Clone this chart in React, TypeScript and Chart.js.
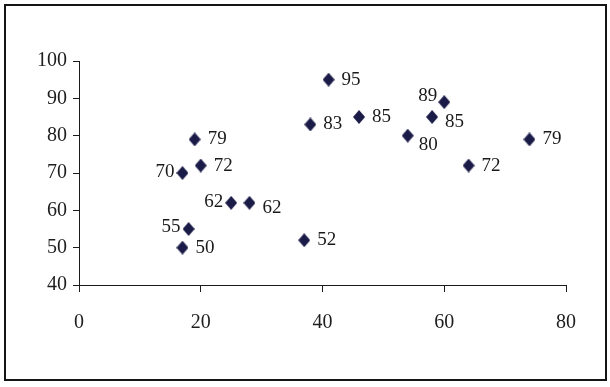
import React, { useEffect, useRef } from "react";
import { Chart, registerables } from "chart.js";

Chart.register(...registerables);

// Data
const xValues = [17, 19, 20, 25, 28, 18, 17, 37, 38, 41, 46, 54, 58, 60, 64, 74];
const yValues = [70, 79, 72, 62, 62, 55, 50, 52, 83, 95, 85, 80, 85, 89, 72, 79];
const pointLabels = ["70", "79", "72", "62", "62", "55", "50", "52", "83", "95", "85", "80", "85", "89", "72", "79"];
// where each value label sits relative to its marker
const labelPlacement = [
  "left", "right", "right", "left", "rightLow", "leftHigh", "right", "right",
  "right", "right", "right", "belowRight", "rightLow", "aboveLeft", "right", "right",
];
const xTicks = [0, 20, 40, 60, 80];
const yTicks = [40, 50, 60, 70, 80, 90, 100];

const MARK = "#1b1b48";
const FONT = "'Liberation Serif', 'Times New Roman', serif";

function makeDiamond(): HTMLCanvasElement {
  const c = document.createElement("canvas");
  const w = 12;
  const h = 14;
  c.width = w;
  c.height = h;
  const g = c.getContext("2d")!;
  g.fillStyle = MARK;
  g.beginPath();
  g.moveTo(w / 2, 0);
  g.lineTo(w, h / 2);
  g.lineTo(w / 2, h);
  g.lineTo(0, h / 2);
  g.closePath();
  g.fill();
  return c;
}

const placementOffsets: Record<string, { dx: number; dy: number; align: CanvasTextAlign }> = {
  right: { dx: 13, dy: 0, align: "left" },
  rightLow: { dx: 13, dy: 5, align: "left" },
  belowRight: { dx: 11, dy: 9, align: "left" },
  left: { dx: -8, dy: -1, align: "right" },
  leftHigh: { dx: -8, dy: -2, align: "right" },
  aboveLeft: { dx: -7, dy: -6, align: "right" },
};

const labelPlugin = {
  id: "valueLabels",
  afterDatasetsDraw(chart: any) {
    const meta = chart.getDatasetMeta(0);
    const ctx = chart.ctx;
    ctx.save();
    ctx.font = `19px ${FONT}`;
    ctx.fillStyle = "#1a1a1a";
    ctx.textBaseline = "middle";
    meta.data.forEach((el: any, i: number) => {
      const o = placementOffsets[labelPlacement[i]] || placementOffsets.right;
      ctx.textAlign = o.align;
      ctx.fillText(pointLabels[i], el.x + o.dx, el.y + o.dy);
    });
    ctx.restore();
  },
};

export default function App() {
  const ref = useRef<HTMLCanvasElement | null>(null);

  useEffect(() => {
    if (!ref.current) return;
    const diamond = makeDiamond();
    const chart = new Chart(ref.current, {
      type: "scatter",
      data: {
        datasets: [
          {
            data: xValues.map((x, i) => ({ x, y: yValues[i] })),
            pointStyle: diamond as any,
            pointRadius: 6,
            backgroundColor: MARK,
            borderColor: MARK,
          },
        ],
      },
      options: {
        animation: false,
        responsive: false,
        maintainAspectRatio: false,
        layout: { padding: { top: 61, right: 44, left: 0, bottom: 0 } },
        plugins: {
          legend: { display: false },
          tooltip: { enabled: false },
        },
        scales: {
          x: {
            type: "linear",
            min: 0,
            max: 80,
            afterFit: (s: any) => {
              s.height = 102;
            },
            afterBuildTicks: (s: any) => {
              s.ticks = xTicks.map((v) => ({ value: v }));
            },
            grid: {
              display: true,
              drawOnChartArea: false,
              drawTicks: true,
              tickLength: 7,
              color: "#1a1a1a",
              lineWidth: 1,
            },
            border: { display: true, color: "#1a1a1a", width: 1 },
            ticks: {
              padding: 19,
              color: "#1e1e1e",
              font: { family: FONT, size: 20 },
            },
          },
          y: {
            type: "linear",
            min: 40,
            max: 100,
            afterFit: (s: any) => {
              s.width = 79;
            },
            afterBuildTicks: (s: any) => {
              s.ticks = yTicks.map((v) => ({ value: v }));
            },
            grid: {
              display: true,
              drawOnChartArea: false,
              drawTicks: true,
              tickLength: 6,
              color: "#1a1a1a",
              lineWidth: 1,
            },
            border: { display: true, color: "#1a1a1a", width: 1 },
            ticks: {
              padding: 6,
              color: "#1e1e1e",
              font: { family: FONT, size: 20 },
            },
          },
        },
      },
      plugins: [labelPlugin],
    });
    return () => chart.destroy();
  }, []);

  return (
    <div
      style={{
        position: "fixed",
        left: 0,
        top: 0,
        width: 610,
        height: 387,
        background: "#fff",
      }}
    >
      <div
        style={{
          position: "absolute",
          left: 4,
          top: 4,
          width: 603,
          height: 377,
          boxSizing: "border-box",
          border: "2px solid #151515",
        }}
      />
      <canvas
        ref={ref}
        width={610}
        height={387}
        style={{ position: "absolute", left: 0, top: 0, width: 610, height: 387 }}
      />
    </div>
  );
}
